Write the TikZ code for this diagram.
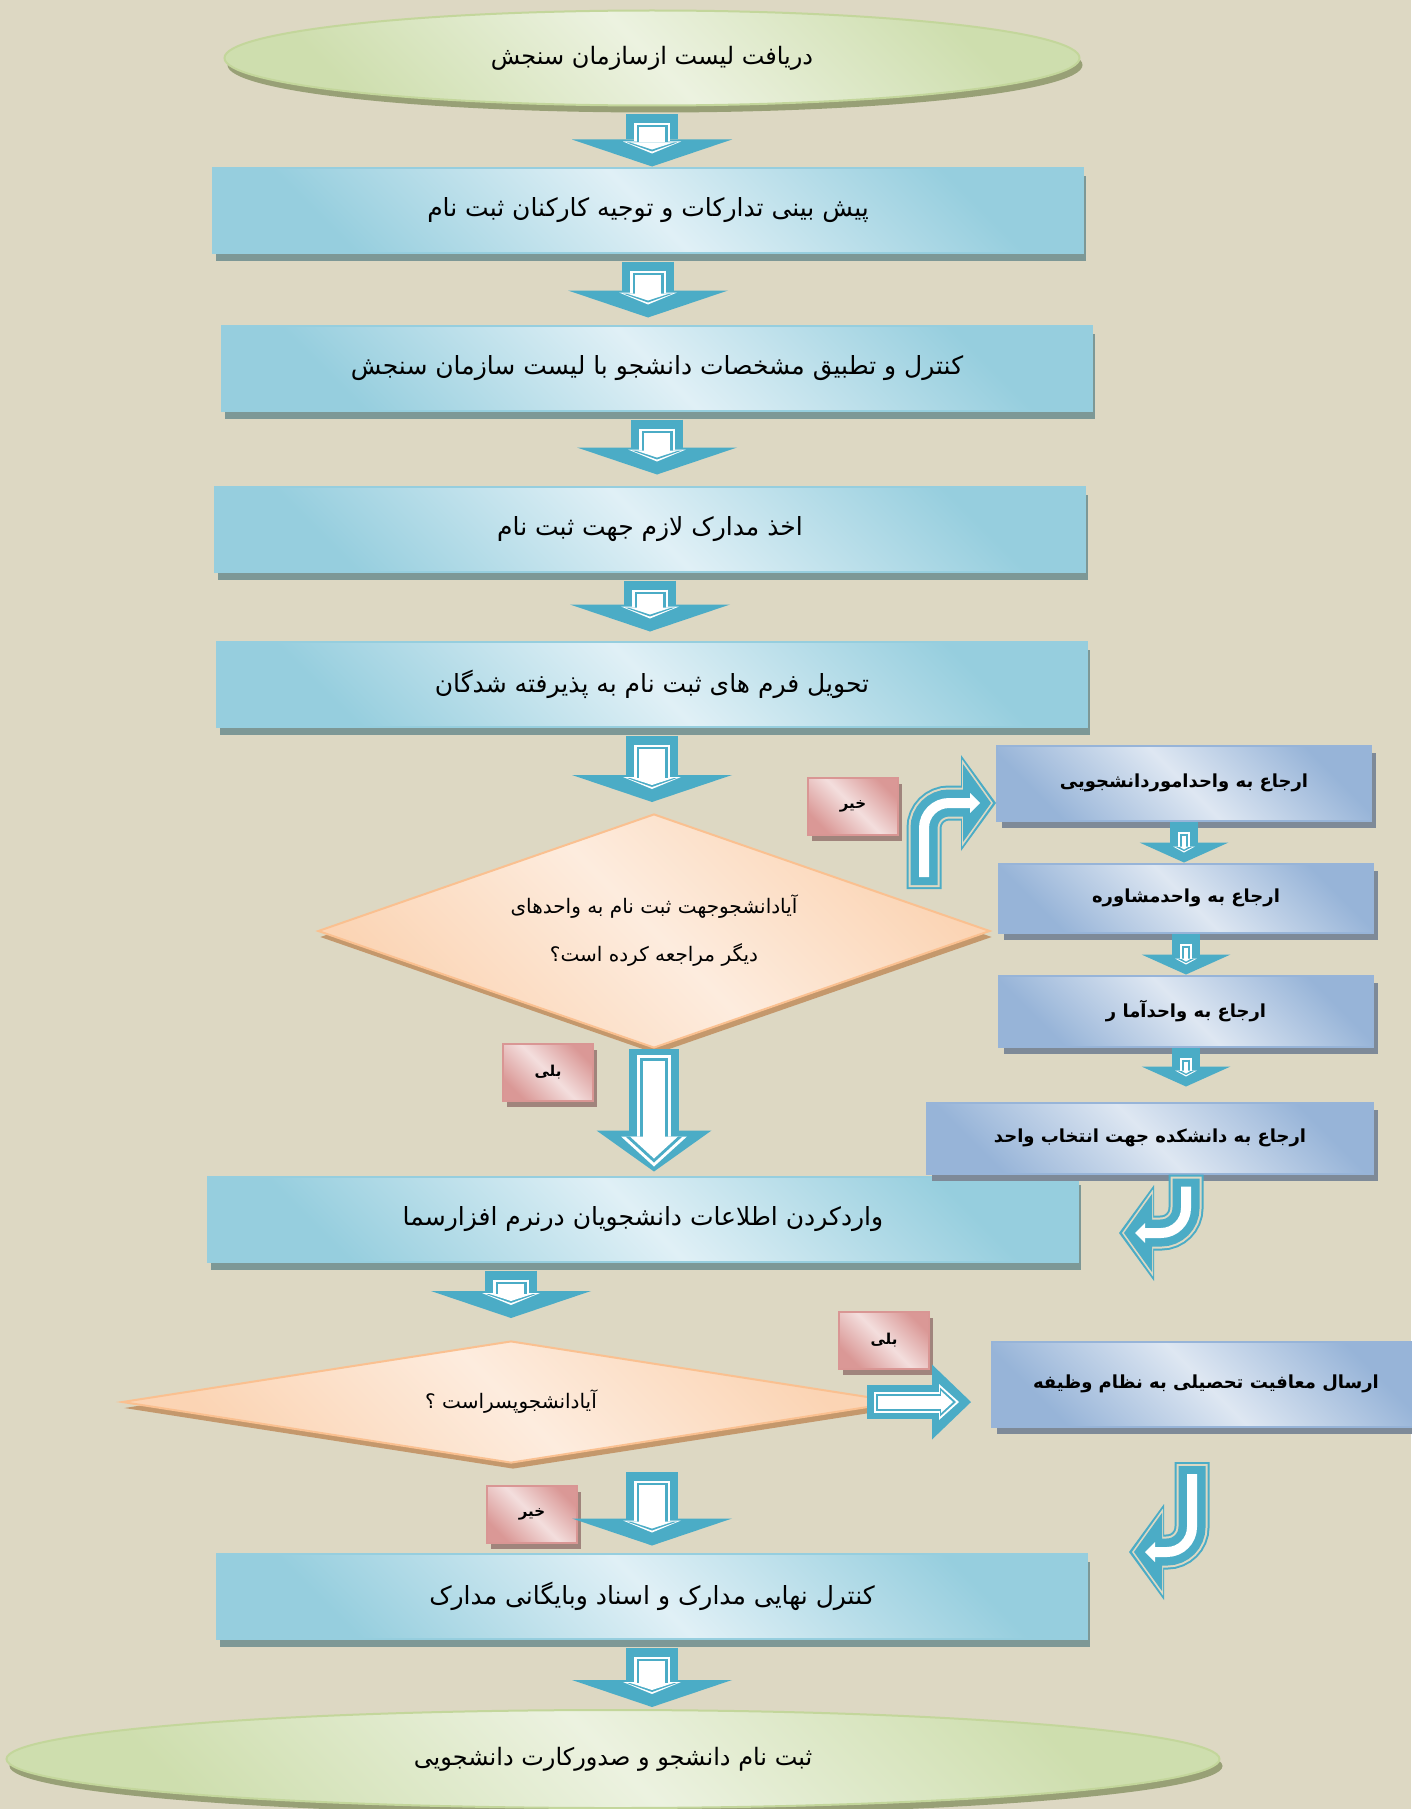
\documentclass[tikz,border=0pt]{standalone}
\usepackage{fontspec}
\newfontfamily\fa[Script=Arabic]{DejaVu Sans}
\TeXXeTstate=1
\usetikzlibrary{shapes.geometric,arrows.meta,shadows}

\definecolor{bgcol}{RGB}{221,216,195}
\definecolor{arrowcol}{RGB}{75,172,198}
\definecolor{proclight}{RGB}{224,240,246}
\definecolor{procdark}{RGB}{150,206,222}
\definecolor{procline}{RGB}{150,206,222}
\definecolor{procshadow}{RGB}{125,152,150}
\definecolor{reflight}{RGB}{222,231,242}
\definecolor{refdark}{RGB}{151,180,216}
\definecolor{refline}{RGB}{151,180,216}
\definecolor{refshadow}{RGB}{126,138,152}
\definecolor{ovallight}{RGB}{236,242,224}
\definecolor{ovaldark}{RGB}{206,222,174}
\definecolor{ovalline}{RGB}{195,214,155}
\definecolor{ovalshadow}{RGB}{152,160,118}
\definecolor{asklight}{RGB}{253,236,222}
\definecolor{askdark}{RGB}{251,212,180}
\definecolor{askline}{RGB}{250,192,144}
\definecolor{askshadow}{RGB}{196,152,108}
\definecolor{tablight}{RGB}{243,222,221}
\definecolor{tabdark}{RGB}{218,152,150}
\definecolor{tabline}{RGB}{217,150,148}
\definecolor{tabshadow}{RGB}{160,132,124}

\tikzset{
  proc/.style={rectangle, draw=procline, line width=2pt, inner sep=0pt,
    minimum width=870pt, minimum height=85pt,
    top color=procdark, bottom color=procdark, middle color=proclight, shading angle=-45,
    general shadow={fill=procshadow, shadow xshift=3pt, shadow yshift=-8pt},
    font=\fa\fontsize{25}{29}\selectfont},
  refer/.style={rectangle, draw=refline, line width=2pt, inner sep=0pt,
    minimum width=374pt, minimum height=72pt,
    top color=refdark, bottom color=refdark, middle color=reflight, shading angle=-45,
    general shadow={fill=refshadow, shadow xshift=5pt, shadow yshift=-7pt},
    font=\fa\bfseries\fontsize{18}{22}\selectfont},
  oval/.style={ellipse, draw=ovalline, line width=2pt, inner sep=0pt,
    top color=ovaldark, bottom color=ovaldark, middle color=ovallight, shading angle=-45,
    general shadow={fill=ovalshadow, shadow xshift=3pt, shadow yshift=-7pt},
    font=\fa\fontsize{24}{28}\selectfont},
  ask/.style={diamond, draw=askline, line width=2pt, inner sep=0pt,
    top color=askdark, bottom color=askdark, middle color=asklight, shading angle=-45,
    general shadow={fill=askshadow, shadow xshift=2pt, shadow yshift=-6pt},
    font=\fa\fontsize{20}{48}\selectfont, align=center},
  tab/.style={rectangle, draw=tabline, line width=2pt, inner sep=0pt,
    minimum width=90pt, minimum height=57pt,
    top color=tabdark, bottom color=tabdark, middle color=tablight, shading angle=-45,
    general shadow={fill=tabshadow, shadow xshift=4pt, shadow yshift=-6pt},
    font=\fa\bfseries\fontsize{15}{18}\selectfont},
  flow/.style={draw=arrowcol, line width=52pt, -{Triangle[width=160pt,length=27pt,line width=0pt]},
    shorten <=8pt, shorten >=#1,
    postaction={draw=white, line width=36pt, -{Triangle[width=58pt,length=12pt,line width=0pt]},
      shorten <=17pt, shorten >=#1+13pt},
    postaction={draw=arrowcol, line width=31pt, -{Triangle[width=50pt,length=9pt,line width=0pt]},
      shorten <=19pt, shorten >=#1+15pt},
    postaction={draw=white, line width=26pt, -{Triangle[width=43pt,length=7pt,line width=0pt]},
      shorten <=21pt, shorten >=#1+17pt}},
  flow/.default=0pt,
  bflow/.style={draw=arrowcol, line width=50pt, -{Triangle[width=115pt,length=41pt,line width=0pt]},
    shorten >=#1,
    postaction={draw=white, line width=34pt, -{Triangle[width=66pt,length=30pt,line width=0pt]},
      shorten <=6pt, shorten >=#1+5pt},
    postaction={draw=arrowcol, line width=28pt, -{Triangle[width=57pt,length=26pt,line width=0pt]},
      shorten <=9pt, shorten >=#1+9pt},
    postaction={draw=white, line width=22pt, -{Triangle[width=48pt,length=22pt,line width=0pt]},
      shorten <=12pt, shorten >=#1+13pt}},
  bflow/.default=0pt,
  sflow/.style={draw=arrowcol, line width=28pt, -{Triangle[width=89pt,length=20pt,line width=0pt]},
    shorten >=#1,
    postaction={draw=white, line width=12pt, -{Triangle[width=22pt,length=6pt,line width=0pt]},
      shorten <=10pt, shorten >=#1+10pt},
    postaction={draw=arrowcol, line width=8pt, -{Triangle[width=16pt,length=4pt,line width=0pt]},
      shorten <=12pt, shorten >=#1+11.5pt},
    postaction={draw=white, line width=4pt, -{Triangle[width=10pt,length=3pt,line width=0pt]},
      shorten <=14pt, shorten >=#1+13pt}},
  sflow/.default=0pt,
  side/.style={draw=arrowcol, line width=34pt, -{Triangle[width=75pt,length=39pt,line width=0pt]},
    shorten >=#1,
    postaction={draw=white, line width=21pt, -{Triangle[width=36pt,length=20pt,line width=0pt]},
      shorten <=7pt, shorten >=#1+12pt},
    postaction={draw=arrowcol, line width=17pt, -{Triangle[width=29pt,length=16pt,line width=0pt]},
      shorten <=9pt, shorten >=#1+15pt},
    postaction={draw=white, line width=13pt, -{Triangle[width=22pt,length=12pt,line width=0pt]},
      shorten <=11pt, shorten >=#1+18pt}},
  side/.default=0pt,
  turn/.style={draw=arrowcol, line width=35pt, rounded corners=25pt,
    -{Triangle[width=96pt,length=35pt,line width=0pt]},
    postaction={draw=bgcol, line width=31pt, -{Triangle[width=87pt,length=31pt,line width=0pt]},
      shorten <=2pt, shorten >=3pt},
    postaction={draw=arrowcol, line width=27pt, -{Triangle[width=78pt,length=28pt,line width=0pt]},
      shorten <=4pt, shorten >=5pt},
    postaction={draw=white, line width=10pt, -{Triangle[width=20pt,length=10pt,line width=0pt]},
      shorten <=12pt, shorten >=16pt}}
}

\begin{document}
\begin{tikzpicture}[x=1pt,y=-1pt]
  \fill[bgcol] (0,0) rectangle (1411,1809);
  \useasboundingbox (0,0) rectangle (1411,1809);

  \node[oval, minimum width=855pt, minimum height=95pt] (e1) at (652,58) {\beginR دریافت لیست ازسازمان سنجش\endR};
  \node[proc] (b1) at (648,210) {\beginR پیش بینی تدارکات و توجیه کارکنان ثبت نام\endR};
  \node[proc] (b2) at (657,368) {\beginR کنترل و تطبیق مشخصات دانشجو با لیست سازمان سنجش\endR};
  \node[proc] (b3) at (650,529) {\beginR اخذ مدارک لازم جهت ثبت نام\endR};
  \node[proc] (b4) at (652,684) {\beginR تحویل فرم های ثبت نام به پذیرفته شدگان\endR};
  \node[ask, aspect=2.87, minimum width=672pt, minimum height=234pt] (d1) at (654,931)
    {\beginR آیادانشجوجهت ثبت نام به واحدهای\endR\\\beginR دیگر مراجعه کرده است؟\endR};
  \node[proc] (b5) at (643,1219) {\beginR واردکردن اطلاعات دانشجویان درنرم افزارسما\endR};
  \node[ask, aspect=6.4, minimum width=778pt, minimum height=122pt] (d2) at (511,1402) {\beginR آیادانشجوپسراست ؟\endR};
  \node[proc] (b6) at (652,1596) {\beginR کنترل نهایی مدارک و اسناد وبایگانی مدارک\endR};
  \node[oval, minimum width=1213pt, minimum height=98pt] (e2) at (613,1759) {\beginR ثبت نام دانشجو و صدورکارت دانشجویی\endR};

  \node[refer, minimum height=75pt] (ra) at (1184,783) {\beginR ارجاع به واحداموردانشجویی\endR};
  \node[refer, minimum height=69pt] (rb) at (1186,898) {\beginR ارجاع به واحدمشاوره\endR};
  \node[refer, minimum height=71pt] (rc) at (1186,1011) {\beginR ارجاع به واحدآما ر\endR};
  \node[refer, minimum width=446pt, minimum height=71pt] (rd) at (1150,1138) {\beginR ارجاع به دانشکده جهت انتخاب واحد\endR};
  \node[refer, minimum width=428pt, minimum height=85pt] (re) at (1206,1384) {\beginR ارسال معافیت تحصیلی به نظام وظیفه\endR};

  \node[tab] (no1) at (853,806) {\beginR خیر\endR};
  \node[tab] (yes1) at (548,1072) {\beginR بلی\endR};
  \node[tab] (yes2) at (884,1340) {\beginR بلی\endR};
  \node[tab] (no2) at (532,1514) {\beginR خیر\endR};

  \coordinate (k1) at (924,889);
  \coordinate (k3) at (1119,1233);
  \coordinate (k4) at (1192,1462);
  \coordinate (k5) at (1129,1552);

  \draw[flow] (e1.south) -- (e1.south |- b1.north);
  \draw[flow=7pt] (b1.south) -- (b1.south |- b2.north);
  \draw[flow=11pt] (b2.south) -- (b2.south |- b3.north);
  \draw[flow=9pt] (b3.south) -- (b3.south |- b4.north);
  \draw[flow=11pt] (b4.south) -- (b4.south |- d1.north);
  \draw[bflow=4pt] (d1.south) -- (d1.south |- b5.north);
  \draw[flow=22pt] (b5.south -| d2.north) -- (d2.north);
  \draw[flow=7pt] (d2.south -| b6.north) -- (b6.north);
  \draw[flow=2pt] (b6.south) -- (b6.south |- e2.north);

  \draw[sflow] (ra.south) -- (ra.south |- rb.north);
  \draw[sflow] (rb.south) -- (rb.south |- rc.north);
  \draw[sflow=15pt] (rc.south) -- (rc.south |- rd.north);

  \draw[side=20pt] ([xshift=-34pt]d2.east) -- (d2.east -| re.west);
  \draw[turn] (k1) |- ([yshift=-20pt]ra.west);
  \draw[turn] (rd.south -| rc.south) |- (k3);
  \draw[turn] (k4) |- (k5);
\end{tikzpicture}
\end{document}
